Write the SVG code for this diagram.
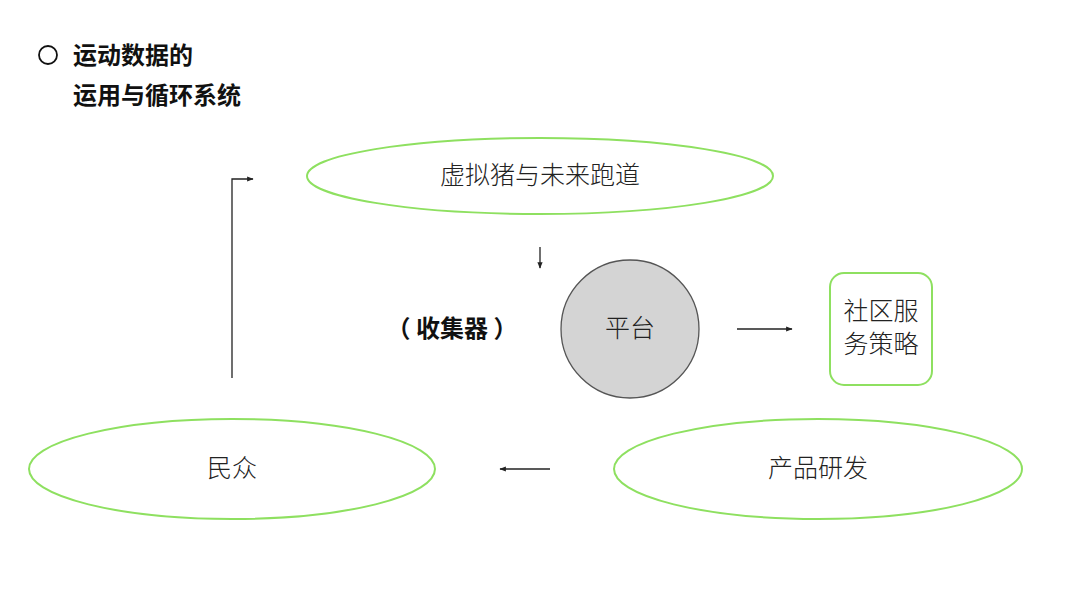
<svg xmlns="http://www.w3.org/2000/svg" width="1080" height="608" viewBox="0 0 1080 608">
<style>
.t{font-family:"Noto Sans CJK SC",sans-serif;fill:#222;font-size:25px;text-anchor:middle;font-weight:300}
.b{font-family:"Noto Sans CJK SC",sans-serif;fill:#111;font-size:24px;font-weight:bold}
.g{fill:#fff;stroke:#8ee060;stroke-width:2}
.c path{fill:none;stroke:#222;stroke-width:1.3}
</style>
<defs><marker id="a" viewBox="0 0 10 10" refX="9" refY="5" markerWidth="5" markerHeight="5" orient="auto"><path d="M0 1L10 5L0 9z" fill="#222"/></marker></defs>
<rect width="1080" height="608" fill="#fff"/>
<circle cx="48" cy="55" r="9" fill="none" stroke="#111" stroke-width="1.8"/>
<text class="b" x="73" y="64">运动数据的</text>
<text class="b" x="73" y="104">运用与循环系统</text>
<g id="n1"><ellipse class="g" cx="540" cy="176" rx="233" ry="38"/><text class="t" x="540" y="184">虚拟猪与未来跑道</text></g>
<g id="n2"><circle cx="630" cy="329" r="69" fill="#d4d4d4" stroke="#555" stroke-width="1.3"/><text class="t" x="630" y="337">平台</text></g>
<g id="n3"><text class="b" x="452" y="337" text-anchor="middle">（ 收集器 ）</text></g>
<g id="n4"><rect class="g" x="830" y="273" width="102" height="112" rx="14"/><text class="t" x="881" y="320">社区服</text><text class="t" x="881" y="353">务策略</text></g>
<g id="n5"><ellipse class="g" cx="232" cy="469" rx="203" ry="50"/><text class="t" x="232" y="477">民众</text></g>
<g id="n6"><ellipse class="g" cx="818" cy="469" rx="204" ry="50"/><text class="t" x="818" y="477">产品研发</text></g>
<g class="c" id="connectors">
<path d="M232 378V179H253" marker-end="url(#a)"/>
<path d="M540 247V268" marker-end="url(#a)"/>
<path d="M737 329H792" marker-end="url(#a)"/>
<path d="M550 469H500" marker-end="url(#a)"/>
</g>
</svg>
